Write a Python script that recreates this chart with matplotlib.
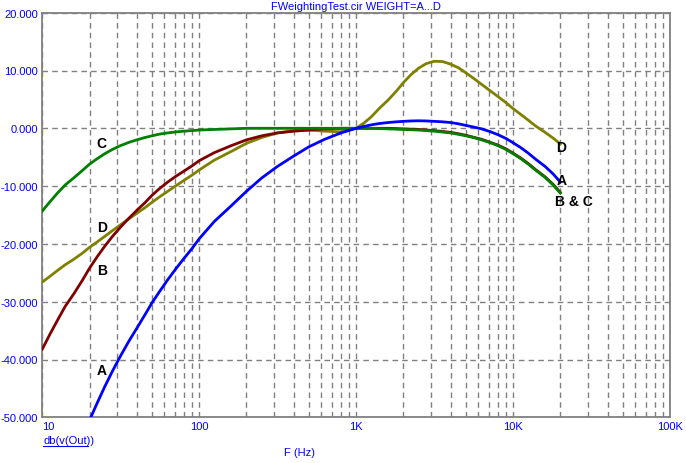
import matplotlib
matplotlib.use("Agg")
import matplotlib.pyplot as plt
from matplotlib.ticker import FixedLocator, NullFormatter, FuncFormatter

plt.rcParams['font.family'] = ['Liberation Sans', 'DejaVu Sans']

freq = [10, 11.2, 12.5, 14, 16, 18, 20, 22.4, 25, 28, 31.5, 35.5, 40, 45, 50, 56, 63, 71, 80, 90, 100,
        125, 160, 200, 250, 315, 400, 500, 630, 800, 1000,
        1120, 1250, 1400, 1600, 1800, 2000, 2240, 2500, 2800, 3150, 3550, 4000, 4500, 5000,
        5600, 6300, 7100, 8000, 9000, 10000, 11200, 12500, 14000, 16000, 18000, 20000]
curve_a = [-70.4, -66.8, -63.4, -60.0, -56.7, -53.5, -50.5, -47.5, -44.7, -42.0, -39.4, -36.9,
           -34.6, -32.3, -30.2, -28.2, -26.2, -24.3, -22.5, -20.8, -19.1,
           -16.1, -13.4, -10.9, -8.6, -6.6, -4.8, -3.2, -1.9, -0.8, 0.0,
           0.32, 0.6, 0.82, 1.0, 1.12, 1.2, 1.27, 1.3, 1.27, 1.2, 1.12, 1.0, 0.77, 0.5,
           0.22, -0.1, -0.55, -1.1, -1.75, -2.5, -3.35, -4.3, -5.4, -6.6, -7.9, -9.3]
curve_b = [-38.2, -35.6, -33.2, -30.8, -28.5, -26.3, -24.2, -22.2, -20.4, -18.7, -17.1, -15.6,
           -14.2, -12.9, -11.6, -10.4, -9.3, -8.3, -7.4, -6.5, -5.6,
           -4.2, -3.0, -2.0, -1.3, -0.8, -0.5, -0.3, -0.1, 0.0, 0.0,
           0.0, 0.0, 0.0, 0.0, -0.05, -0.1, -0.15, -0.2, -0.3, -0.4, -0.55, -0.7, -0.95, -1.2,
           -1.55, -1.9, -2.4, -2.9, -3.55, -4.3, -5.15, -6.1, -7.2, -8.4, -9.7, -11.1]
curve_c = [-14.3, -12.7, -11.2, -9.8, -8.5, -7.3, -6.2, -5.25, -4.4, -3.65, -3.0, -2.45,
           -2.0, -1.6, -1.3, -1.0, -0.8, -0.62, -0.5, -0.4, -0.3,
           -0.2, -0.1, 0.0, 0.0, 0.0, 0.0, 0.0, 0.0, 0.0, 0.0,
           0.0, 0.0, -0.05, -0.1, -0.15, -0.2, -0.25, -0.3, -0.4, -0.5, -0.65, -0.8, -1.05, -1.3,
           -1.6, -2.0, -2.45, -3.0, -3.65, -4.4, -5.25, -6.2, -7.3, -8.5, -9.8, -11.2]
curve_d = [-26.6, -25.6, -24.6, -23.6, -22.6, -21.6, -20.6, -19.65, -18.7, -17.7, -16.7, -15.7,
           -14.7, -13.75, -12.8, -11.85, -10.9, -9.95, -9.0, -8.1, -7.2,
           -5.5, -4.0, -2.6, -1.6, -0.8, -0.4, -0.3, -0.5, -0.6, 0.0,
           0.9, 2.0, 3.4, 4.9, 6.4, 7.9, 9.3, 10.4, 11.2, 11.6, 11.55, 11.1, 10.45, 9.6,
           8.65, 7.6, 6.55, 5.5, 4.45, 3.4, 2.4, 1.4, 0.35, -0.7, -1.7, -2.7]

x_ticks = [10, 100, 1000, 10000, 100000]
x_tick_labels = ['10', '100', '1K', '10K', '100K']
y_ticks = [-50, -40, -30, -20, -10, 0, 10, 20]

title = 'FWeightingTest.cir WEIGHT=A...D'
blue_txt = '#0000ff'
grid_col = '#808080'
fs = 8.0

fig = plt.figure(figsize=(6.86, 4.64), dpi=100)
ax = fig.add_axes([42.3 / 686, 1 - 418.3 / 464, 627.7 / 686, 404.6 / 464])

ax.plot(freq, curve_d, color='#808000', lw=2.0, zorder=3)
ax.plot(freq, curve_b, color='#800000', lw=2.0, zorder=4)
ax.plot(freq, curve_c, color='#008000', lw=2.0, zorder=5)
ax.plot(freq, curve_a, color='#0000ff', lw=2.0, zorder=6)

ax.set_xscale('log')
ax.set_xlim(10, 100000)
ax.set_ylim(-50, 20)

ax.xaxis.set_major_locator(FixedLocator(x_ticks))
ax.xaxis.set_minor_locator(FixedLocator([m * d for d in [10, 100, 1000, 10000] for m in range(2, 10)]))
ax.xaxis.set_minor_formatter(NullFormatter())
ax.set_xticks(x_ticks)
ax.set_xticklabels(x_tick_labels)
ax.set_yticks(y_ticks)
ax.yaxis.set_major_formatter(FuncFormatter(lambda v, p: '%.3f' % v))

ax.tick_params(axis='both', which='both', length=0, colors=blue_txt, labelsize=fs)
ax.tick_params(axis='y', pad=3)
ax.tick_params(axis='x', pad=3)
for lab in ax.get_xticklabels():
    if lab.get_text() == '10':
        lab.set_horizontalalignment('left')

ax.grid(True, which='major', axis='both', color=grid_col, linestyle=(0, (4, 3)), lw=1.0, zorder=1)
ax.grid(True, which='minor', axis='x', color=grid_col, linestyle=(0, (4, 3)), lw=1.0, zorder=1)

for s in ax.spines.values():
    s.set_color(grid_col)
    s.set_linewidth(1.3)

lab_kw = dict(fontsize=10, fontweight='bold', color='black', va='center', zorder=7)
ax.text(23.7, -2.6, 'C', ha='center', **lab_kw)
ax.text(24.0, -17.1, 'D', ha='center', **lab_kw)
ax.text(24.0, -24.6, 'B', ha='center', **lab_kw)
ax.text(24.0, -41.9, 'A', ha='center', **lab_kw)
ax.text(18700, -3.3, 'D', ha='left', **lab_kw)
ax.text(18900, -9.0, 'A', ha='left', **lab_kw)
ax.text(18600, -12.6, 'B & C', ha='left', **lab_kw)

fig.text(356 / 686, 1 - 7 / 464, title, color=blue_txt, fontsize=fs, ha='center', va='center')
fig.text(43 / 686, 1 - 441 / 464, 'db(v(Out))', color=blue_txt, fontsize=fs, ha='left', va='center')
fig.add_artist(plt.Line2D([43 / 686, 88 / 686], [1 - 447 / 464, 1 - 447 / 464], color=blue_txt, lw=0.8))
fig.text(300 / 686, 1 - 453 / 464, 'F (Hz)', color=blue_txt, fontsize=fs, ha='center', va='center')

fig.savefig('out.png', dpi=100)
